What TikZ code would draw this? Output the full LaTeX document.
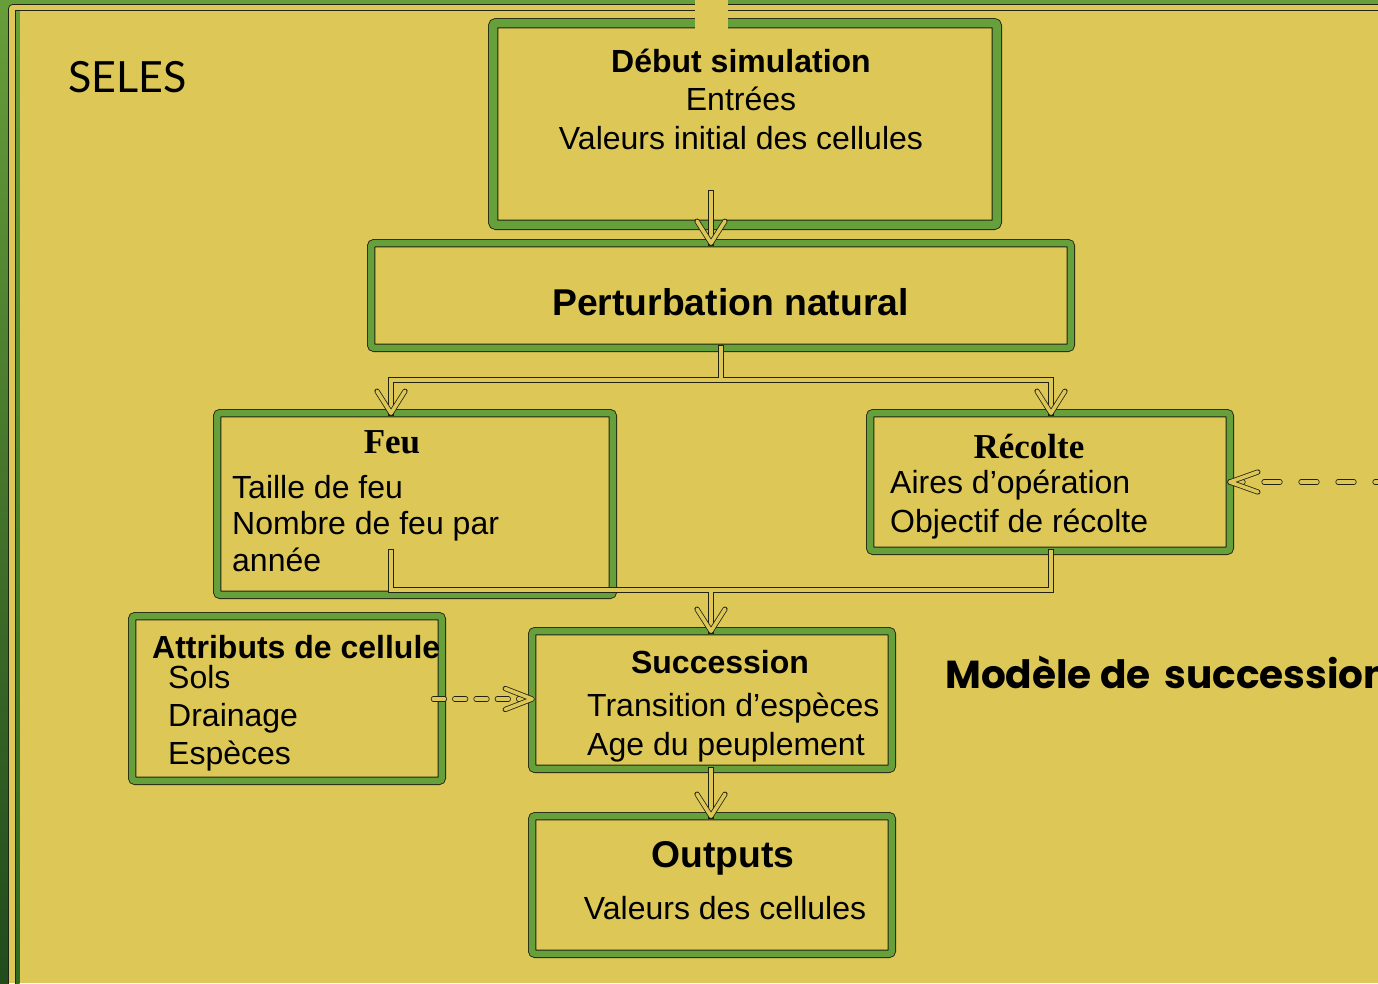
\documentclass[tikz,border=0pt]{standalone}
\usepackage{fontspec}
\setmainfont{Liberation Sans}
\newfontfamily\serifbf{Liberation Serif}
\newfontfamily\selesfont{Lato}
\newfontfamily\modfont{Poppins}
\usetikzlibrary{calc}
\definecolor{bg}{RGB}{221,200,87}
\definecolor{boxgreen}{RGB}{102,160,59}
\definecolor{dk}{RGB}{35,35,20}
\definecolor{frtop}{RGB}{104,160,58}
\definecolor{frbot}{RGB}{30,72,27}
\definecolor{frbotb}{RGB}{46,104,32}
\begin{document}
\begin{tikzpicture}[x=1pt,y=-1pt,
  box/.style={draw=dk, line width=0.9pt, double=boxgreen, double distance=6.5pt, fill=bg, rounded corners=3pt, inner sep=0pt, outer sep=0pt},
  conn/.style={draw=dk, line width=0.8pt, double=bg, double distance=3.6pt, line cap=rect},
  head/.style={draw=dk, line width=0.8pt, double=bg, double distance=3.6pt, line cap=round, line join=round},
  txt/.style={inner sep=0pt, anchor=base, font=\fontsize{32}{38}\selectfont},
  ltxt/.style={txt, anchor=base west},
  btxt/.style={txt, font=\fontsize{32}{38}\selectfont\bfseries},
  sertxt/.style={txt, font=\serifbf\bfseries\fontsize{35}{40}\selectfont}
]
\useasboundingbox (0,0) rectangle (1378,983);
\clip (0,0) rectangle (1378,983);
\fill[bg] (0,0) rectangle (1378,983);
% frame
\shade[top color=frtop, bottom color=frbot, even odd rule, rounded corners=4pt] (-20,-20) rectangle (1420,1020) (8.5,4.5) rectangle (1420,1020);
\draw[dk, line width=0.7pt, rounded corners=4pt] (1420,4.5) -- (8.5,4.5) -- (8.5,1020);
\shade[top color=frtop, bottom color=frbotb] (16,10) rectangle (19.5,1020);
\draw[dk, line width=1pt] (1420,10) -- (15.8,10) -- (15.8,1020);

% boxes
\node[box, double distance=8.5pt, minimum width=503.7, minimum height=201.7] (debut) at (745,124) {};
\fill[bg] (695,-1) rectangle (728,29);
\node[box, minimum width=699.7, minimum height=104.7] (pert) at (721,295.5) {};
\node[box, minimum width=395.7, minimum height=181.7] (feu) at (415,504) {};
\node[box, minimum width=359.7, minimum height=137.7] (rec) at (1050,482) {};
\node[box, minimum width=309.7, minimum height=164.7] (attr) at (287,698.5) {};
\node[box, minimum width=359.7, minimum height=137.7] (succ) at (712,700) {};
\node[box, minimum width=359.7, minimum height=137.7] (out) at (712,885) {};

% texts
\node[anchor=base west, inner sep=0pt, font=\selesfont\fontsize{43}{50}\selectfont] (seles) at (68,92) {SELES};
\node[anchor=base west, inner sep=0pt, font=\modfont\bfseries\fontsize{39}{47}\selectfont] (modele) at (945,688) {Modèle de\hspace{14pt}succession};

\node[btxt] (d1) at (741,72) {Début simulation};
\node[txt] (d2) at (741,110) {Entrées};
\node[txt] (d3) at (741,149) {Valeurs initial des cellules};

\node[btxt, font=\fontsize{37.3}{44}\selectfont\bfseries] (p1) at (730.5,315) {Perturbation natural};

\node[sertxt] (f1) at (392,453) {Feu};
\node[ltxt] (f2) at (232,498) {Taille de feu};
\node[ltxt] (f3) at (232,534) {Nombre de feu par};
\node[ltxt] (f4) at (232,571) {année};

\node[sertxt] (r1t) at (1029,458) {Récolte};
\node[ltxt] (r2t) at (890,493) {Aires d’opération};
\node[ltxt] (r3t) at (890,532) {Objectif de récolte};

\node[btxt, anchor=base west] (a1t) at (152,658) {Attributs de cellule};
\node[ltxt] (a2t) at (168,688) {Sols};
\node[ltxt] (a3t) at (168,726) {Drainage};
\node[ltxt] (a4t) at (168,764) {Espèces};

\node[btxt] (s1t) at (720,673) {Succession};
\node[ltxt] (s2t) at (587,716) {Transition d’espèces};
\node[ltxt] (s3t) at (587,755) {Age du peuplement};

\node[btxt, font=\fontsize{37.3}{44}\selectfont\bfseries] (o1t) at (723,867) {Outputs};
\node[txt] (o2t) at (725,919) {Valeurs des cellules};

% connectors
\coordinate (c1) at (711,193);
\coordinate (t1) at (c1 |- pert.north);
\draw[conn] (c1) -- (t1);
\draw[head] (t1) ++(-14,-22) -- (t1) -- ++(14,-22);

\coordinate (j1) at (721,380);
\coordinate (fx) at (391,0);
\coordinate (rx) at (1051,0);
\coordinate (t2) at (fx |- feu.north);
\coordinate (t3) at (rx |- rec.north);
\draw[conn] (pert.south) -- (j1) (t2) |- (j1) -| (t3);
\draw[head] (t2) ++(-14,-22) -- (t2) -- ++(14,-22);
\draw[head] (t3) ++(-14,-22) -- (t3) -- ++(14,-22);

\coordinate (fa) at (391,552);
\coordinate (ra) at (1051,552);
\coordinate (j2) at (711,590);
\coordinate (t4) at (j2 |- succ.north);
\draw[conn] (fa) |- (j2) -| (ra) (j2) -- (t4);
\draw[head] (t4) ++(-14,-22) -- (t4) -- ++(14,-22);

\coordinate (aS) at (433.4,699);
\coordinate (t5) at (aS -| succ.west);
\draw[conn, line cap=round, dash pattern=on 11pt off 10.3pt] (aS) -- (t5);
\draw[head] (t5) ++(-27,-10.5) -- (t5) -- ++(-27,10.5);

\coordinate (rS) at (1391,482);
\coordinate (t6) at (rS -| rec.east);
\draw[conn, line cap=round, dash pattern=on 16pt off 21pt] (rS) -- (t6);
\draw[head] (t6) ++(28,-10) -- (t6) -- ++(28,10);

\coordinate (c7) at (711,770);
\coordinate (t7) at (c7 |- out.north);
\draw[conn] (c7) -- (t7);
\draw[head] (t7) ++(-14,-22) -- (t7) -- ++(14,-22);
\end{tikzpicture}
\end{document}
